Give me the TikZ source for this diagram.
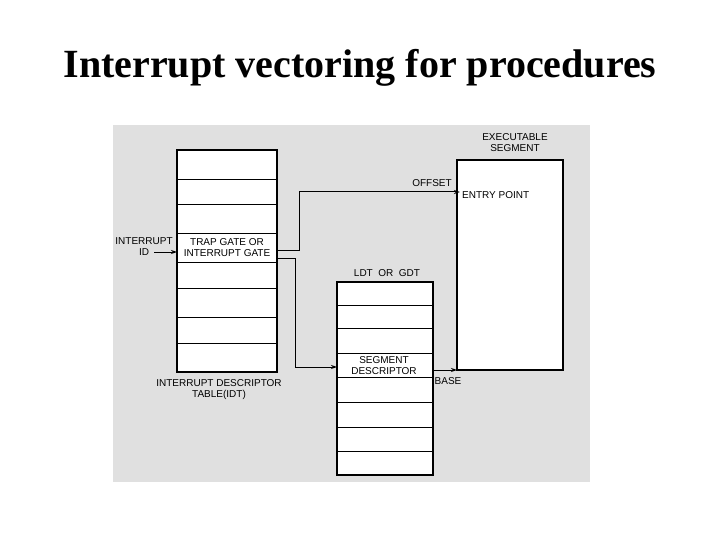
\documentclass[tikz,border=0pt]{standalone}
\usepackage{fontspec}
\setmainfont{Liberation Serif}
\newfontfamily\lab{Liberation Sans}
\usetikzlibrary{arrows.meta}
\begin{document}
\begin{tikzpicture}[x=1pt,y=-1pt,
  box/.style={draw,line width=1.3pt},
  rowline/.style={line width=1pt},
  lbl/.style={font=\lab\fontsize{10}{11}\selectfont,align=center,inner sep=1pt},
  conn/.style={line width=1pt,-{Stealth[length=6pt,width=4pt]}}]
\useasboundingbox (0,0) rectangle (720,540);
\fill[white] (0,0) rectangle (720,540);
\fill[black!12] (113,125) rectangle (590,482);
\node[font=\bfseries\fontsize{40}{46}\selectfont] (title) at (360,68) {Interrupt vectoring for procedures};
% IDT
\draw[box,fill=white] (177,150) rectangle (277,372);
\foreach \y in {180,205,233,262,288,317,343} \draw[rowline] (177,\y) -- (277,\y);
\node[lbl] (trap) at (227,248) {TRAP GATE OR\\INTERRUPT GATE};
\node[lbl] (idtlab) at (219,390) {INTERRUPT DESCRIPTOR\\TABLE(IDT)};
\node[lbl] (iid) at (144,247) {INTERRUPT\\ID};
\coordinate (idin) at (177,252);
\draw[conn] (154,252) -- (idin);
% Executable segment
\draw[box,fill=white] (457,160) rectangle (563,370);
\node[lbl] (exlab) at (515,143) {EXECUTABLE\\SEGMENT};
\node[lbl,anchor=west] (entry) at (461,195) {ENTRY POINT};
% LDT/GDT
\draw[box,fill=white] (337,282) rectangle (433,475);
\foreach \y in {305,328,353,377,402,427,451} \draw[rowline] (337,\y) -- (433,\y);
\node[lbl] (ldtlab) at (387,273) {LDT\ \ OR\ \ GDT};
\node[lbl] (segd) at (384,366) {SEGMENT\\DESCRIPTOR};
% connectors
\coordinate (o1) at (277,250);
\coordinate (ep) at (460,192);
\draw[conn] (o1) -- (299,250) -- (299,192) -- (ep);
\node[lbl] (offset) at (432,183) {OFFSET};
\coordinate (o2) at (277,258);
\draw[conn] (o2) -- (295,258) -- (295,367) -- (337,367);
\draw[conn] (433,370) -- (457,370);
\node[lbl] (base) at (448,381) {BASE};
\end{tikzpicture}
\end{document}
